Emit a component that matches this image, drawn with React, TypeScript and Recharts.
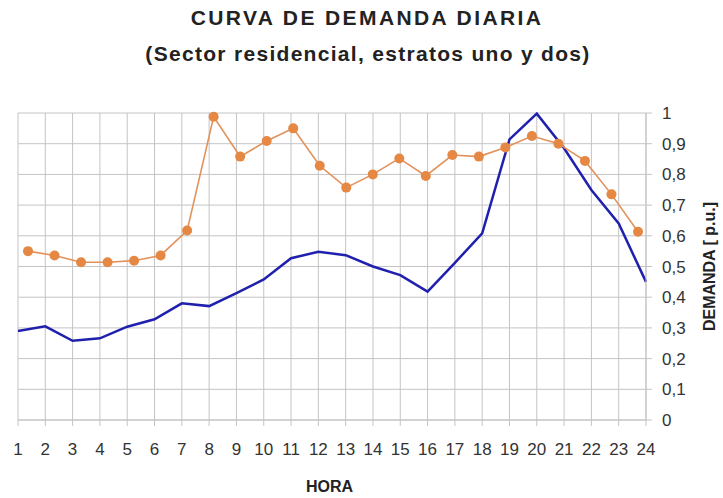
import React from "react";
import { LineChart, Line, XAxis, YAxis, CartesianGrid } from "recharts";

const HORAS = [
  "1", "2", "3", "4", "5", "6", "7", "8", "9", "10", "11", "12",
  "13", "14", "15", "16", "17", "18", "19", "20", "21", "22", "23", "24",
];

// curva azul (sin marcadores)
const CURVA_AZUL = [
  0.29, 0.305, 0.258, 0.266, 0.304, 0.328, 0.38, 0.371, 0.413, 0.458, 0.527, 0.548,
  0.537, 0.5, 0.472, 0.418, 0.512, 0.608, 0.914, 0.998, 0.885, 0.749, 0.64, 0.45,
];

// curva naranja (con marcadores)
const CURVA_NARANJA = [
  0.55, 0.536, 0.514, 0.514, 0.519, 0.536, 0.617, 0.988, 0.858, 0.909, 0.95, 0.828,
  0.757, 0.8, 0.852, 0.795, 0.863, 0.858, 0.888, 0.925, 0.9, 0.844, 0.735, 0.613,
];

const Y_TICKS = [0, 0.1, 0.2, 0.3, 0.4, 0.5, 0.6, 0.7, 0.8, 0.9, 1];

const data = HORAS.map((h, i) => ({
  hora: h,
  azul: CURVA_AZUL[i],
  naranja: CURVA_NARANJA[i],
}));

const FONT = "'Liberation Sans', Arial, sans-serif";
const GRID = "#c4c4c4";

const fmt = (v: number) => (v === 0 || v === 1 ? String(v) : v.toFixed(1).replace(".", ","));

export default function App() {
  return (
    <div
      style={{
        position: "absolute",
        left: 0,
        top: 0,
        width: 723,
        height: 498,
        background: "#fff",
        fontFamily: FONT,
        color: "#222",
      }}
    >
      <div
        style={{
          position: "absolute",
          top: 6,
          left: 0,
          width: 734,
          textAlign: "center",
          fontSize: 21,
          fontWeight: 700,
          letterSpacing: 2.4,
          whiteSpace: "nowrap",
        }}
      >
        CURVA DE DEMANDA DIARIA
      </div>
      <div
        style={{
          position: "absolute",
          top: 42,
          left: 0,
          width: 736,
          textAlign: "center",
          fontSize: 21,
          fontWeight: 700,
          letterSpacing: 1.3,
          whiteSpace: "nowrap",
        }}
      >
        (Sector residencial, estratos uno y dos)
      </div>

      <LineChart
        width={723}
        height={498}
        data={data}
        margin={{ top: 113, left: 18, right: 0, bottom: 0 }}
      >
        <CartesianGrid stroke={GRID} xAxisId="h" yAxisId="d" />
        <XAxis
          xAxisId="h"
          dataKey="hora"
          height={78}
          padding={{ left: 0, right: 0 }}
          interval={0}
          tickSize={6}
          tickMargin={17}
          tickLine={{ stroke: GRID }}
          axisLine={{ stroke: GRID }}
          tick={{ fill: "#333", fontSize: 17, fontFamily: FONT }}
        />
        <XAxis xAxisId="o" dataKey="hora" hide padding={{ left: 10, right: 8 }} />
        <YAxis
          yAxisId="d"
          orientation="right"
          width={77}
          domain={[0, 1]}
          ticks={Y_TICKS}
          tickFormatter={fmt}
          tickSize={6}
          tickMargin={10}
          tickLine={{ stroke: GRID }}
          axisLine={{ stroke: GRID }}
          tick={{ fill: "#333", fontSize: 17, fontFamily: FONT }}
          label={{
            value: "DEMANDA [ p.u.]",
            angle: -90,
            position: "insideRight",
            offset: 14,
            style: { fill: "#222", fontSize: 16, fontWeight: 700, fontFamily: FONT, textAnchor: "middle" },
          }}
        />
        <Line
          xAxisId="h"
          yAxisId="d"
          type="linear"
          dataKey="azul"
          stroke="#2020ae"
          strokeWidth={2.5}
          dot={false}
          isAnimationActive={false}
        />
        <Line
          xAxisId="o"
          yAxisId="d"
          type="linear"
          dataKey="naranja"
          stroke="#e2915a"
          strokeWidth={1.6}
          dot={{ r: 5, fill: "#e48844", stroke: "#e48844", strokeWidth: 0 }}
          isAnimationActive={false}
        />
      </LineChart>

      <div
        style={{
          position: "absolute",
          top: 478,
          left: 306,
          fontSize: 16,
          fontWeight: 700,
        }}
      >
        HORA
      </div>
    </div>
  );
}
